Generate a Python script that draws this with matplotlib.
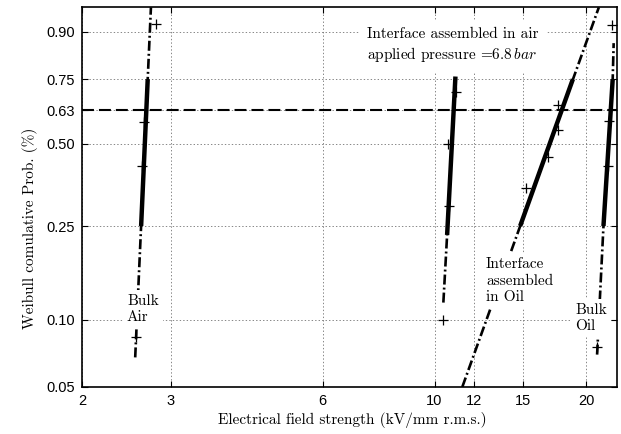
import numpy as np
import matplotlib
matplotlib.use("Agg")
import matplotlib.pyplot as plt
from matplotlib.ticker import FixedLocator, FixedFormatter, NullLocator

# Breakdown points: field strength (kV/mm r.m.s.) and Weibull cumulative probability
BULK_AIR_E = [2.56, 2.63, 2.65, 2.80]
BULK_AIR_P = [0.084, 0.42, 0.584, 0.919]
IFACE_AIR_E = [10.41, 10.67, 10.65, 11.03]
IFACE_AIR_P = [0.10, 0.301, 0.50, 0.70]
IFACE_OIL_E = [15.17, 16.82, 17.60, 17.60]
IFACE_OIL_P = [0.351, 0.452, 0.551, 0.651]
BULK_OIL_E = [20.97, 22.05, 22.22, 22.46]
BULK_OIL_P = [0.076, 0.42, 0.586, 0.917]

# Fitted Weibull lines: thick solid part and dash-dot extension
BULK_AIR_FIT_E = [2.62, 2.70]
BULK_AIR_FIT_P = [0.25, 0.75]
BULK_AIR_EXT_E = [2.55, 2.74]
BULK_AIR_EXT_P = [0.068, 0.95]

IFACE_AIR_FIT_E = [10.59, 11.0]
IFACE_AIR_FIT_P = [0.23, 0.76]
IFACE_AIR_EXT_E = [10.41, 10.59]
IFACE_AIR_EXT_P = [0.119, 0.23]

IFACE_OIL_FIT_E = [14.78, 18.80]
IFACE_OIL_FIT_P = [0.25, 0.75]
IFACE_OIL_EXT_E = [11.35, 21.17]
IFACE_OIL_EXT_P = [0.05, 0.95]

BULK_OIL_FIT_E = [21.62, 22.55]
BULK_OIL_FIT_P = [0.25, 0.75]
BULK_OIL_EXT_E = [21.0, 21.62, 22.55, 22.65]
BULK_OIL_EXT_P = [0.07, 0.25, 0.75, 0.87]

X_TICKS = [2, 3, 6, 10, 12, 15, 20]
Y_TICKS = [0.05, 0.10, 0.25, 0.50, 0.63, 0.75, 0.90]
CHAR_PROB = 0.63

plt.rcParams['mathtext.fontset'] = 'cm'
plt.rcParams['font.family'] = ['Liberation Sans', 'DejaVu Sans']
plt.rcParams['lines.scale_dashes'] = False
SERIF = 'cmr10'
FS = 11


def weibull_fwd(p):
    p = np.clip(np.asarray(p, dtype=float), 1e-9, 1 - 1e-9)
    return np.log(-np.log(1 - p))


def weibull_inv(w):
    return 1 - np.exp(-np.exp(np.asarray(w, dtype=float)))


fig = plt.figure(figsize=(6.21, 4.34), dpi=100)
ax = fig.add_axes([0.132, 0.1083, 0.8616, 0.8749])

ax.set_xscale('log')
ax.set_yscale('function', functions=(weibull_fwd, weibull_inv))
ax.set_xlim(2, 23)
ax.set_ylim(0.05, 0.95)

dashdot = (0, (7.2, 2.2, 1.4, 2.2))
fits = [
    (BULK_AIR_FIT_E, BULK_AIR_FIT_P, BULK_AIR_EXT_E, BULK_AIR_EXT_P),
    (IFACE_AIR_FIT_E, IFACE_AIR_FIT_P, IFACE_AIR_EXT_E, IFACE_AIR_EXT_P),
    (IFACE_OIL_FIT_E, IFACE_OIL_FIT_P, IFACE_OIL_EXT_E, IFACE_OIL_EXT_P),
    (BULK_OIL_FIT_E, BULK_OIL_FIT_P, BULK_OIL_EXT_E, BULK_OIL_EXT_P),
]
for fe, fp, ee, ep in fits:
    ax.plot(ee, ep, color='black', lw=1.9, linestyle=dashdot, zorder=3)
    ax.plot(fe, fp, color='black', lw=3.2, solid_capstyle='butt', zorder=3)

for e, p in [(BULK_AIR_E, BULK_AIR_P), (IFACE_AIR_E, IFACE_AIR_P),
             (IFACE_OIL_E, IFACE_OIL_P), (BULK_OIL_E, BULK_OIL_P)]:
    ax.plot(e, p, linestyle='none', marker='+', color='black', ms=7, mew=0.9, zorder=4)

ax.axhline(CHAR_PROB, color='black', lw=1.5, linestyle=(0, (8.6, 3.6)), zorder=3)

# axes, ticks and grid
ax.xaxis.set_major_locator(FixedLocator(X_TICKS))
ax.xaxis.set_major_formatter(FixedFormatter([str(t) for t in X_TICKS]))
ax.xaxis.set_minor_locator(NullLocator())
ax.yaxis.set_major_locator(FixedLocator(Y_TICKS))
ax.yaxis.set_major_formatter(FixedFormatter(['%.2f' % t for t in Y_TICKS]))
ax.yaxis.set_minor_locator(NullLocator())
ax.tick_params(direction='in', length=4, width=0.8, top=True, right=True,
               labelsize=10.5, pad=5)
ax.grid(True, color='0.45', linestyle=(0, (1, 1.5)), lw=0.6, zorder=0)
for s in ax.spines.values():
    s.set_linewidth(1.2)

ax.set_xlabel('Electrical field strength (kV/mm r.m.s.)', fontfamily=SERIF, fontsize=FS)
ax.set_ylabel('Weibull comulative Prob. (%)', fontfamily=SERIF, fontsize=FS)
ax.xaxis.set_label_coords(0.505, -0.066)
ax.yaxis.set_label_coords(-0.083, 0.418)

box = dict(facecolor='white', edgecolor='none', pad=3)
ax.text(2.456, 0.1117, 'Bulk\nAir', fontfamily=SERIF, fontsize=FS,
        ha='left', va='center', linespacing=1.25, bbox=box, zorder=6)
ax.text(12.65, 0.148, 'Interface\nassembled\nin Oil', fontfamily=SERIF, fontsize=FS,
        ha='left', va='center', linespacing=1.25, bbox=box, zorder=6)
ax.text(19.0, 0.102, 'Bulk\nOil', fontfamily=SERIF, fontsize=FS,
        ha='left', va='center', linespacing=1.25, bbox=box, zorder=6)
ax.text(7.35, 0.8625, 'Interface assembled in air\napplied pressure =6.8$\\,bar$',
        fontfamily=SERIF, fontsize=FS, ha='left', va='center', linespacing=1.25,
        bbox=dict(facecolor='white', edgecolor='none', pad=6), zorder=6)

fig.savefig('out.png', dpi=100)
